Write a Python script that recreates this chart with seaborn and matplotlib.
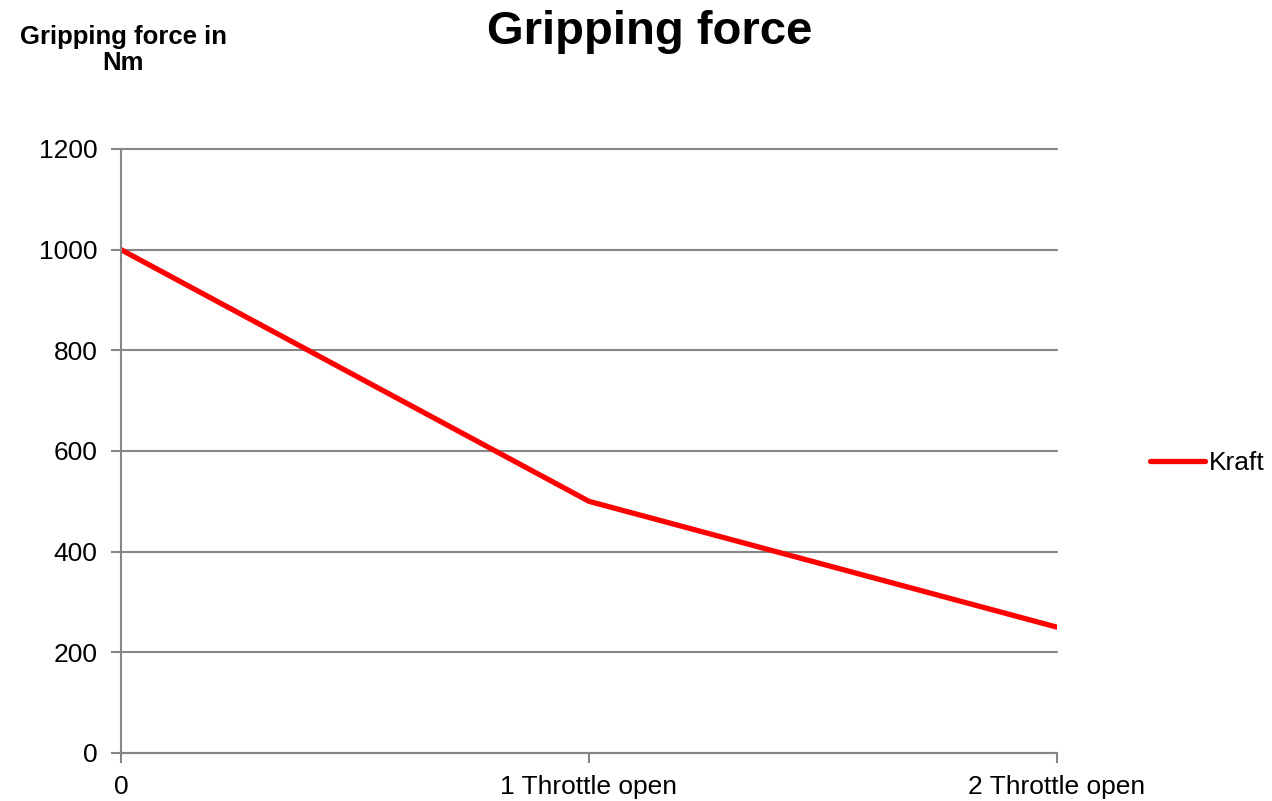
import matplotlib
matplotlib.use("Agg")
import matplotlib.pyplot as plt
import pandas as pd
import seaborn as sns

# -- data
categories = ["0", "1 Throttle open", "2 Throttle open"]
kraft = [1000, 500, 250]
y_ticks = [0, 200, 400, 600, 800, 1000, 1200]

df = pd.DataFrame({"pos": range(len(categories)), "Kraft": kraft})

sns.set_theme(style="white")
plt.rcParams["font.family"] = ["Liberation Sans", "DejaVu Sans"]
plt.rcParams["text.color"] = "black"

grey = "#868686"
fig = plt.figure(figsize=(12.72, 8.01), dpi=100)
ax = fig.add_axes([121 / 1272, 48 / 801, 936 / 1272, 604 / 801])

ax.yaxis.grid(True, color=grey, linewidth=1.5)
ax.set_axisbelow(True)
sns.lineplot(data=df, x="pos", y="Kraft", color="#ff0000", linewidth=3.8,
             label="Kraft", ax=ax, legend=False)

ax.set_xlim(0, len(categories) - 1)
ax.set_ylim(0, 1200)
ax.set_xticks(df["pos"])
ax.set_xticklabels(categories)
ax.set_yticks(y_ticks)
ax.tick_params(axis="both", labelsize=19, colors=grey, labelcolor="black",
               direction="out", length=7, width=1.5, bottom=True, left=True)
ax.tick_params(axis="y", pad=10)
ax.tick_params(axis="x", pad=9)
ax.set_xlabel("")
ax.set_ylabel("")
sns.despine(ax=ax)
for side in ("left", "bottom"):
    ax.spines[side].set_color(grey)
    ax.spines[side].set_linewidth(1.5)
for gl in ax.get_ygridlines():
    gl.set_clip_on(False)

fig.text(0.511, 1 - 32 / 801, "Gripping force", ha="center", va="center",
         fontsize=34, fontweight="bold", color="black")
fig.text(0.097, 1 - 50 / 801, "Gripping force in\nNm", ha="center", va="center",
         fontsize=18.5, fontweight="bold", linespacing=1.15, color="black")

handles, labels = ax.get_legend_handles_labels()
leg = fig.legend(handles, labels, loc="center left", bbox_to_anchor=(0.904, 1 - 463 / 801),
                 frameon=False, fontsize=19, handlelength=2.1, handletextpad=0.15,
                 borderpad=0, borderaxespad=0)
for t in leg.get_texts():
    t.set_color("black")

fig.savefig("out.png", dpi=100)
